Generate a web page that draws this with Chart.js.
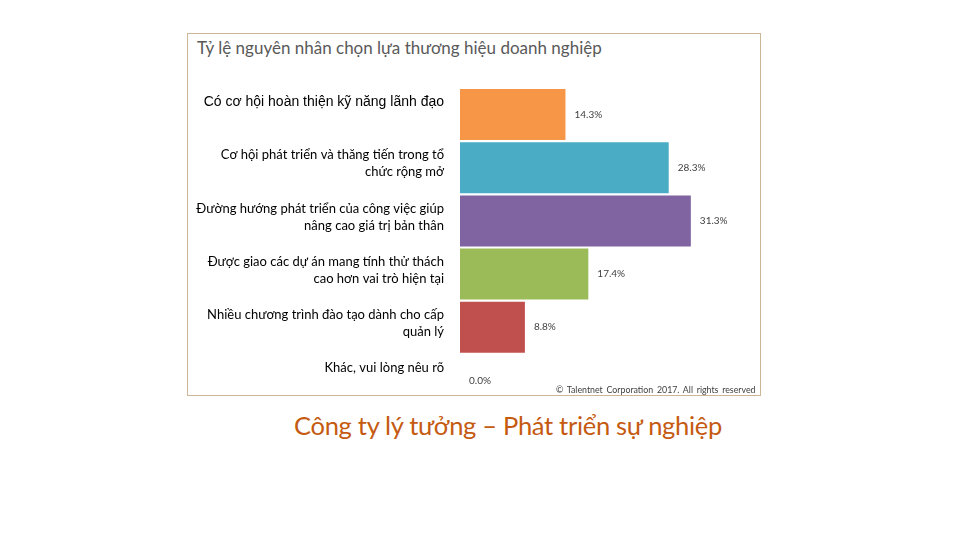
<!DOCTYPE html>
<html>
<head>
<meta charset="utf-8">
<script src="https://cdn.jsdelivr.net/npm/chart.js@4.4.1/dist/chart.umd.min.js"></script>
<style>
  body { margin: 0; background: #fff; width: 960px; height: 540px; position: relative; overflow: hidden; }
  #frame { position: absolute; left: 187px; top: 33px; width: 572px; height: 361px; border: 1px solid #cdb597; }
  #title { position: absolute; left: 197px; top: 37px; font: 17px Lato, sans-serif; color: #595959; }
  #copy { position: absolute; left: 556px; top: 384px; font: 8.8px Lato, sans-serif; color: #404040; word-spacing: 1.5px; }
  #footer { position: absolute; left: 0; width: 1016px; top: 410px; text-align: center; font: 25.5px Lato, sans-serif; color: #c55a11; letter-spacing: -0.3px; }
  #chart { position: absolute; left: 187px; top: 33px; }
</style>
</head>
<body>
<div id="frame"></div>
<div id="title">Tỷ lệ nguyên nhân chọn lựa thương hiệu doanh nghiệp</div>
<canvas id="chart" width="574" height="374"></canvas>
<div id="copy">© Talentnet Corporation 2017. All rights reserved</div>
<div id="footer">Công ty lý tưởng – Phát triển sự nghiệp</div>
<script>
// reasons (category labels, already wrapped like the original)
const reasons = [
  ["Có cơ hội hoàn thiện kỹ năng lãnh đạo", ""],
  ["Cơ hội phát triển và thăng tiến trong tổ", "chức rộng mở"],
  ["Đường hướng phát triển của công việc giúp", "nâng cao giá trị bản thân"],
  ["Được giao các dự án mang tính thử thách", "cao hơn vai trò hiện tại"],
  ["Nhiều chương trình đào tạo dành cho cấp", "quản lý"],
  ["Khác, vui lòng nêu rõ", ""]
];
const percents = [14.3, 28.3, 31.3, 17.4, 8.8, 0.0];
const barColors = ["#f79646", "#4bacc6", "#8064a2", "#9bbb59", "#c0504d", "#4f81bd"];

// draws the "xx.x%" text next to every bar
const valueLabels = {
  id: "valueLabels",
  afterDatasetsDraw(chart) {
    const ctx = chart.ctx;
    const meta = chart.getDatasetMeta(0);
    ctx.save();
    ctx.font = "10px Lato, sans-serif";
    ctx.fillStyle = "#404040";
    ctx.textAlign = "left";
    ctx.textBaseline = "middle";
    meta.data.forEach((bar, i) => {
      ctx.fillText(percents[i].toFixed(1) + "%", bar.x + 9, bar.y);
    });
    ctx.restore();
  }
};

new Chart(document.getElementById("chart").getContext("2d"), {
  type: "bar",
  data: {
    labels: reasons,
    datasets: [{
      data: percents,
      backgroundColor: barColors,
      borderWidth: 0,
      barPercentage: 1,
      categoryPercentage: 0.96
    }]
  },
  options: {
    indexAxis: "y",
    responsive: false,
    animation: false,
    layout: { padding: { top: 55, right: 6, bottom: 0, left: 0 } },
    plugins: { legend: { display: false }, tooltip: { enabled: false } },
    scales: {
      x: { display: false, min: 0, max: 40 },
      y: {
        grid: { display: false, drawTicks: false },
        border: { display: false },
        afterFit(scale) {
          scale.width = 273;
          // labels may hang past the plot edges, don't shrink the plot for them
          scale.paddingTop = 0;
          scale.paddingBottom = 0;
        },
        ticks: {
          padding: 16,
          labelOffset: -4,
          color: "#000",
          font: (c) => c.index === 0
            ? { family: "'Liberation Sans', Arial, sans-serif", size: 14, lineHeight: 1.2 }
            : { family: "Lato, sans-serif", size: 13, lineHeight: 1.3 }
        }
      }
    }
  },
  plugins: [valueLabels]
});
</script>
</body>
</html>
